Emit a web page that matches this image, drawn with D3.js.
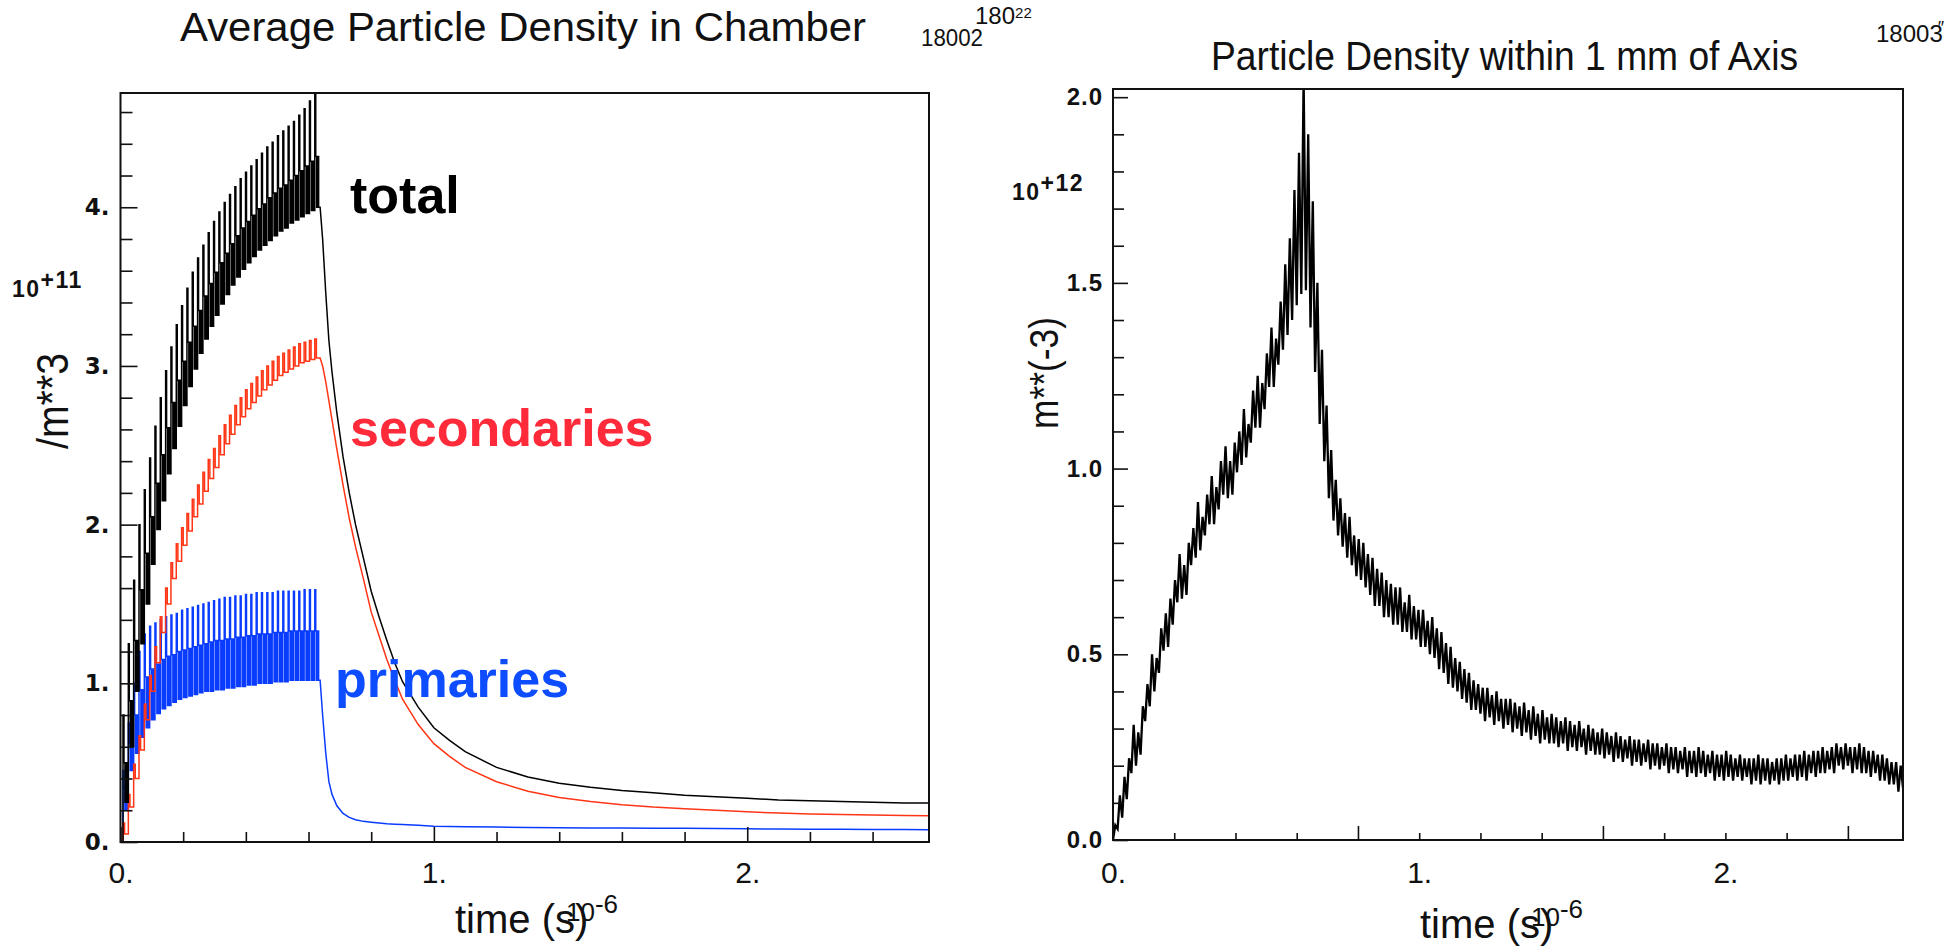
<!DOCTYPE html>
<html lang="en">
<head>
<meta charset="utf-8">
<title>particle density in chamber</title>
<style>
	body {
		margin: 0px;
		background-color: #ffffff;
		overflow: hidden;
	}
	svg { display: block; }
	.frame { fill: none; stroke: #111; stroke-width: 2px; }
	.axis line { stroke: #111; stroke-width: 1.6px; }
	.axis .domain { display: none; }
	.xlab text { font-family: "Liberation Sans", Arial, sans-serif; font-size: 30px; fill: #111; }
	.ylab text { font-family: "Liberation Sans", Arial, sans-serif; font-weight: bold; font-size: 24px; letter-spacing: 1px; fill: #111; }
	.ylabwide text { font-family: "DejaVu Sans", sans-serif; font-size: 23px; letter-spacing: 0px; }
	.title { font-family: "Liberation Sans", Arial, sans-serif; font-size: 41px; fill: #111; }
	.small { font-family: "Liberation Sans", Arial, sans-serif; font-size: 24px; fill: #111; }
	.expo { font-family: "Liberation Sans", Arial, sans-serif; font-weight: bold; font-size: 23px; letter-spacing: 1.5px; fill: #111; }
	.curvelab { font-family: "Liberation Sans", Arial, sans-serif; font-weight: bold; font-size: 52px; }
	.line { fill: none; stroke-linejoin: miter; }
</style>
</head>
<body>
<svg id="chart" width="1948" height="951"></svg>
<script src="https://d3js.org/d3.v7.min.js"></script>
<script>
// ---- left panel: average density in chamber (units 10+11 /m**3, time in 10-6 s) ----
// one entry per beam pulse
var pulseTimes = [0.008,0.025,0.042,0.059,0.076,0.093,0.110,0.127,0.144,0.161,0.178,0.195,0.212,0.229,0.246,0.263,0.280,0.297,0.314,0.331,0.348,0.365,0.382,0.399,0.416,0.433,0.450,0.467,0.484,0.501,0.518,0.535,0.552,0.569,0.586,0.603,0.620];

var totalHi  = [0.80,1.25,1.65,2.00,2.22,2.42,2.62,2.80,2.97,3.12,3.26,3.38,3.49,3.59,3.68,3.76,3.84,3.91,3.97,4.03,4.08,4.13,4.18,4.22,4.26,4.30,4.34,4.38,4.41,4.45,4.48,4.51,4.54,4.58,4.62,4.67,4.80];
var totalMid = [0.50,0.89,1.27,1.59,1.82,2.05,2.26,2.44,2.61,2.77,2.91,3.03,3.15,3.25,3.35,3.44,3.52,3.59,3.65,3.71,3.77,3.82,3.87,3.91,3.95,3.99,4.02,4.06,4.09,4.12,4.14,4.17,4.20,4.23,4.26,4.29,4.32];
var totalLo  = [0.25,0.60,0.95,1.25,1.50,1.75,1.97,2.15,2.32,2.48,2.62,2.75,2.87,2.98,3.08,3.17,3.25,3.32,3.39,3.45,3.51,3.56,3.61,3.65,3.69,3.73,3.76,3.79,3.82,3.85,3.87,3.90,3.92,3.94,3.96,3.98,4.00];

var secHi = [0.12,0.30,0.49,0.67,0.87,1.05,1.23,1.42,1.60,1.76,1.88,1.98,2.07,2.16,2.25,2.33,2.41,2.48,2.56,2.63,2.69,2.75,2.80,2.85,2.89,2.93,2.97,3.00,3.03,3.06,3.08,3.10,3.12,3.14,3.15,3.16,3.17];
var secLo = [0.05,0.22,0.40,0.58,0.77,0.95,1.13,1.32,1.50,1.66,1.77,1.87,1.96,2.05,2.13,2.21,2.29,2.36,2.44,2.51,2.57,2.63,2.68,2.73,2.77,2.81,2.85,2.88,2.91,2.94,2.96,2.98,3.00,3.02,3.03,3.04,3.05];

var primHi  = [0.45,0.75,1.00,1.20,1.31,1.36,1.38,1.40,1.42,1.43,1.44,1.46,1.47,1.48,1.49,1.50,1.51,1.52,1.53,1.54,1.54,1.55,1.55,1.56,1.56,1.57,1.57,1.57,1.57,1.58,1.58,1.58,1.58,1.58,1.59,1.59,1.59];
var primMid = [0.34,0.62,0.80,0.96,1.04,1.09,1.12,1.15,1.17,1.18,1.20,1.21,1.22,1.23,1.24,1.25,1.26,1.27,1.27,1.28,1.28,1.29,1.29,1.30,1.30,1.31,1.31,1.31,1.32,1.32,1.32,1.33,1.33,1.33,1.33,1.33,1.33];
var primLo  = [0.20,0.45,0.56,0.66,0.72,0.77,0.81,0.84,0.86,0.88,0.90,0.91,0.92,0.93,0.94,0.95,0.95,0.96,0.96,0.97,0.97,0.98,0.98,0.99,0.99,1.00,1.00,1.00,1.01,1.01,1.01,1.02,1.02,1.02,1.02,1.02,1.02];

// after the last pulse
var decayTimes = [0.637,0.645,0.655,0.665,0.675,0.69,0.71,0.73,0.75,0.775,0.80,0.825,0.85,0.875,0.90,0.95,1.00,1.05,1.10,1.20,1.30,1.40,1.50,1.60,1.70,1.80,1.90,2.00,2.10,2.20,2.30,2.40,2.50,2.58];
var totalDecay = [4.00,3.80,3.46,3.16,2.96,2.71,2.43,2.20,2.00,1.79,1.58,1.42,1.27,1.13,1.01,0.85,0.72,0.64,0.57,0.47,0.41,0.37,0.345,0.325,0.31,0.295,0.285,0.275,0.265,0.26,0.255,0.25,0.245,0.245];
var secDecay   = [3.05,3.00,2.90,2.78,2.66,2.48,2.25,2.04,1.86,1.66,1.45,1.30,1.15,1.02,0.90,0.74,0.62,0.54,0.47,0.38,0.32,0.28,0.255,0.235,0.22,0.21,0.20,0.19,0.182,0.177,0.173,0.17,0.167,0.165];
var primDecay  = [1.02,0.80,0.56,0.38,0.30,0.23,0.18,0.155,0.14,0.13,0.125,0.12,0.115,0.112,0.11,0.105,0.10,0.098,0.096,0.094,0.092,0.09,0.089,0.088,0.087,0.086,0.085,0.083,0.082,0.081,0.080,0.079,0.078,0.077];

var leftXMinor = [0.2,0.4,0.6,0.8,1.2,1.4,1.6,1.8,2.2,2.4];
var leftXMajor = [0,1,2];
var leftXLabels = ["0.","1.","2."];
var leftYMinor = [0.2,0.4,0.6,0.8,1.2,1.4,1.6,1.8,2.2,2.4,2.6,2.8,3.2,3.4,3.6,3.8,4.2,4.4,4.6];
var leftYMajor = [0,1,2,3,4];
var leftYLabels = ["0.","1.","2.","3.","4."];

// ---- right panel: density within 1 mm of axis (units 10+12 m**(-3)) ----
// noise band per 0.015 bin: upper and lower reading
var axisBinWidth = 0.015;
var axisHi = [
0.04,0.12,0.17,0.22,0.31,0.29,0.36,0.42,0.50,0.49,
0.57,0.61,0.65,0.70,0.77,0.74,0.80,0.84,0.91,0.87,
0.93,0.98,0.95,1.02,1.06,1.02,1.07,1.10,1.16,1.12,
1.21,1.25,1.23,1.31,1.38,1.35,1.45,1.55,1.62,1.75,
1.85,2.05,1.90,1.72,1.50,1.32,1.17,1.05,0.97,0.92,
0.88,0.87,0.82,0.81,0.80,0.77,0.76,0.73,0.72,0.70,
0.69,0.68,0.68,0.64,0.66,0.63,0.62,0.62,0.59,0.60,
0.57,0.56,0.53,0.52,0.49,0.48,0.46,0.45,0.43,0.42,
0.41,0.41,0.39,0.40,0.38,0.38,0.38,0.37,0.36,0.37,
0.35,0.36,0.34,0.35,0.33,0.34,0.33,0.32,0.33,0.32,
0.31,0.32,0.30,0.31,0.30,0.29,0.30,0.29,0.28,0.29,
0.28,0.27,0.28,0.27,0.27,0.26,0.27,0.26,0.26,0.25,
0.26,0.25,0.25,0.24,0.25,0.24,0.24,0.25,0.24,0.23,
0.24,0.23,0.23,0.24,0.23,0.22,0.23,0.22,0.22,0.22,
0.23,0.22,0.22,0.21,0.22,0.22,0.23,0.22,0.23,0.23,
0.24,0.23,0.24,0.24,0.25,0.24,0.25,0.26,0.25,0.26,
0.25,0.25,0.26,0.25,0.24,0.24,0.23,0.23,0.22,0.21,
0.21,0.20,0.19];
var axisLo = [
0.00,0.03,0.06,0.11,0.18,0.20,0.23,0.32,0.36,0.40,
0.45,0.51,0.52,0.58,0.64,0.65,0.66,0.74,0.76,0.78,
0.82,0.85,0.85,0.89,0.93,0.92,0.93,0.99,1.01,1.03,
1.07,1.11,1.11,1.16,1.22,1.22,1.28,1.32,1.36,1.40,
1.44,1.47,1.48,1.38,1.26,1.12,1.02,0.92,0.86,0.82,
0.79,0.76,0.74,0.71,0.70,0.68,0.66,0.63,0.63,0.60,
0.60,0.58,0.58,0.56,0.56,0.54,0.54,0.52,0.52,0.50,
0.49,0.46,0.45,0.42,0.41,0.40,0.38,0.37,0.35,0.35,
0.34,0.32,0.33,0.31,0.32,0.30,0.31,0.29,0.30,0.28,
0.29,0.27,0.28,0.26,0.27,0.26,0.26,0.25,0.26,0.24,
0.25,0.24,0.25,0.23,0.24,0.23,0.23,0.22,0.23,0.21,
0.22,0.21,0.22,0.20,0.21,0.20,0.21,0.19,0.20,0.19,
0.20,0.18,0.19,0.18,0.19,0.17,0.18,0.17,0.18,0.17,
0.18,0.16,0.17,0.16,0.17,0.16,0.17,0.16,0.17,0.15,
0.16,0.15,0.16,0.15,0.16,0.15,0.16,0.16,0.17,0.16,
0.17,0.16,0.18,0.17,0.18,0.18,0.19,0.18,0.20,0.19,
0.20,0.18,0.19,0.18,0.18,0.17,0.18,0.16,0.16,0.15,
0.15,0.13,0.14];

var rightXMinor = [0.2,0.4,0.6,1.0,1.2,1.4,1.8,2.0,2.2];
var rightXMajor = [0.8,1.6,2.4];
var rightXLabelAt = [0,1,2];
var rightXLabels = ["0.","1.","2."];
var rightYMinor = [0.1,0.2,0.3,0.4,0.6,0.7,0.8,0.9,1.1,1.2,1.3,1.4,1.6,1.7,1.8,1.9];
var rightYMajor = [0,0.5,1.0,1.5,2.0];
var rightYLabels = ["0.0","0.5","1.0","1.5","2.0"];

var svg = d3.select("#chart");

// scales
var xL = d3.scaleLinear().domain([0, 2.58]).range([120.5, 929]);
var yL = d3.scaleLinear().domain([0, 4.72]).range([842, 93]);
var xR = d3.scaleLinear().domain([0, 2.58]).range([1113, 1903]);
var yR = d3.scaleLinear().domain([0, 2.022]).range([840, 89]);

var defs = svg.append("defs");
defs.append("clipPath").attr("id", "clipL").append("rect")
	.attr("x", xL(0)).attr("y", yL(4.72)).attr("width", xL(2.58) - xL(0)).attr("height", yL(0) - yL(4.72));
defs.append("clipPath").attr("id", "clipR").append("rect")
	.attr("x", xR(0)).attr("y", yR(2.022)).attr("width", xR(2.58) - xR(0)).attr("height", yR(0) - yR(2.022));

// sawtooth of each pulse followed by the decay tail
function pulsePoints(hi, mid, lo, tail) {
	var pts = [[0, 0]];
	var prev = 0;
	pulseTimes.forEach(function(t, i) {
		var p = (i < pulseTimes.length - 1) ? pulseTimes[i + 1] - t : t - pulseTimes[i - 1];
		pts.push([t, prev], [t, hi[i]], [t + 0.18 * p, hi[i]], [t + 0.18 * p, mid[i]],
			[t + 0.36 * p, mid[i]], [t + 0.36 * p, lo[i]], [t + 0.54 * p, lo[i]], [t + 0.54 * p, mid[i]],
			[t + 0.72 * p, mid[i]], [t + 0.72 * p, lo[i]]);
		prev = lo[i];
	});
	decayTimes.forEach(function(t, i) { pts.push([t, tail[i]]); });
	return pts;
}

function stairPoints(hi, lo, tail) {
	var pts = [[0, 0]];
	var prev = 0;
	pulseTimes.forEach(function(t, i) {
		var p = (i < pulseTimes.length - 1) ? pulseTimes[i + 1] - t : t - pulseTimes[i - 1];
		pts.push([t, prev], [t, hi[i]], [t + 0.3 * p, hi[i]], [t + 0.3 * p, lo[i]]);
		prev = lo[i];
	});
	decayTimes.forEach(function(t, i) { pts.push([t, tail[i]]); });
	return pts;
}

var lineL = d3.line()
	.x(function(d) { return xL(d[0]); })
	.y(function(d) { return yL(d[1]); });

var curves = svg.append("g").attr("clip-path", "url(#clipL)");
curves.append("path").attr("class", "line")
	.attr("d", lineL(pulsePoints(primHi, primMid, primLo, primDecay)))
	.style("stroke", "#0a3cff").style("stroke-width", "1.5px");
curves.append("path").attr("class", "line")
	.attr("d", lineL(stairPoints(secHi, secLo, secDecay)))
	.style("stroke", "#ff3515").style("stroke-width", "1.5px");
curves.append("path").attr("class", "line")
	.attr("d", lineL(pulsePoints(totalHi, totalMid, totalLo, totalDecay)))
	.style("stroke", "#000").style("stroke-width", "1.5px");

// right curve: zigzag between the low and high reading of every bin
var axisPts = [];
axisHi.forEach(function(h, i) {
	axisPts.push([i * axisBinWidth, axisLo[i]], [(i + 0.5) * axisBinWidth, h]);
});
var lineR = d3.line()
	.x(function(d) { return xR(d[0]); })
	.y(function(d) { return yR(d[1]); });

svg.append("g").attr("clip-path", "url(#clipR)")
	.append("path").attr("class", "line")
	.attr("d", lineR(axisPts))
	.style("stroke", "#000").style("stroke-width", "2.3px");

// frames
svg.append("rect").attr("class", "frame")
	.attr("x", xL(0)).attr("y", yL(4.72)).attr("width", xL(2.58) - xL(0)).attr("height", yL(0) - yL(4.72));
svg.append("rect").attr("class", "frame")
	.attr("x", xR(0)).attr("y", yR(2.022)).attr("width", xR(2.58) - xR(0)).attr("height", yR(0) - yR(2.022));

// left axes
svg.append("g").attr("class", "axis").attr("transform", "translate(0," + yL(0) + ")")
	.call(d3.axisBottom(xL).tickValues(leftXMinor).tickSize(-10).tickFormat(""));
svg.append("g").attr("class", "axis xlab").attr("transform", "translate(0," + yL(0) + ")")
	.call(d3.axisBottom(xL).tickValues(leftXMajor).tickSize(-15).tickPadding(20)
		.tickFormat(function(d, i) { return leftXLabels[i]; }));
svg.append("g").attr("class", "axis").attr("transform", "translate(" + xL(0) + ",0)")
	.call(d3.axisLeft(yL).tickValues(leftYMinor).tickSize(-12).tickFormat(""));
svg.append("g").attr("class", "axis ylab ylabwide").attr("transform", "translate(" + xL(0) + ",0)")
	.call(d3.axisLeft(yL).tickValues(leftYMajor).tickSize(-17).tickPadding(11)
		.tickFormat(function(d, i) { return leftYLabels[i]; }));

// right axes
svg.append("g").attr("class", "axis").attr("transform", "translate(0," + yR(0) + ")")
	.call(d3.axisBottom(xR).tickValues(rightXMinor).tickSize(-7).tickFormat(""));
svg.append("g").attr("class", "axis").attr("transform", "translate(0," + yR(0) + ")")
	.call(d3.axisBottom(xR).tickValues(rightXMajor).tickSize(-14).tickFormat(""));
svg.append("g").attr("class", "axis xlab").attr("transform", "translate(0," + yR(0) + ")")
	.call(d3.axisBottom(xR).tickValues(rightXLabelAt).tickSize(0).tickPadding(22)
		.tickFormat(function(d, i) { return rightXLabels[i]; }));
svg.append("g").attr("class", "axis").attr("transform", "translate(" + xR(0) + ",0)")
	.call(d3.axisLeft(yR).tickValues(rightYMinor).tickSize(-11).tickFormat(""));
svg.append("g").attr("class", "axis ylab").attr("transform", "translate(" + xR(0) + ",0)")
	.call(d3.axisLeft(yR).tickValues(rightYMajor).tickSize(-15).tickPadding(10)
		.tickFormat(function(d, i) { return rightYLabels[i]; }));

// titles and run numbers
svg.append("text").attr("class", "title").attr("x", 180).attr("y", 41)
	.attr("textLength", 686).attr("lengthAdjust", "spacingAndGlyphs")
	.text("Average Particle Density in Chamber");
svg.append("text").attr("class", "title").attr("x", 1211).attr("y", 70)
	.attr("textLength", 587).attr("lengthAdjust", "spacingAndGlyphs")
	.text("Particle Density within 1 mm of Axis");

svg.append("text").attr("class", "small").attr("x", 921).attr("y", 46)
	.attr("textLength", 62).attr("lengthAdjust", "spacingAndGlyphs").text("18002");
var tag = svg.append("text").attr("class", "small").attr("x", 975).attr("y", 24);
tag.append("tspan").text("180");
tag.append("tspan").attr("dy", -6).style("font-size", "15px").text("22");
var tag2 = svg.append("text").attr("class", "small").attr("x", 1876).attr("y", 42);
tag2.append("tspan").text("18003");
tag2.append("tspan").attr("dx", -5).attr("dy", -8).style("font-size", "18px").text("\u2033");

// exponents
var e1 = svg.append("text").attr("class", "expo").attr("x", 12).attr("y", 297);
e1.append("tspan").text("10");
e1.append("tspan").attr("dy", -9).text("+11");
var e2 = svg.append("text").attr("class", "expo").attr("x", 1012).attr("y", 200);
e2.append("tspan").text("10");
e2.append("tspan").attr("dy", -9).text("+12");

// axis titles
svg.append("text").attr("class", "title").style("font-size", "44px")
	.attr("transform", "translate(68,401) rotate(-90)").attr("text-anchor", "middle")
	.attr("textLength", 96).attr("lengthAdjust", "spacingAndGlyphs").text("/m**3");
svg.append("text").attr("class", "title").style("font-size", "40px")
	.attr("transform", "translate(1058,373) rotate(-90)").attr("text-anchor", "middle")
	.attr("textLength", 112).attr("lengthAdjust", "spacingAndGlyphs").text("m**(-3)");

[[455, 933], [1420, 938]].forEach(function(a) {
	svg.append("text").attr("class", "title").style("font-size", "40px")
		.attr("x", a[0]).attr("y", a[1]).text("time (s)");
	var ex = svg.append("text").attr("class", "title").style("font-size", "26px")
		.attr("x", a[0] + 111).attr("y", a[1] - 12);
	ex.append("tspan").text("10");
	ex.append("tspan").attr("dy", -8).text("-6");
});

// curve labels
svg.append("text").attr("class", "curvelab").attr("x", 350).attr("y", 213).style("fill", "#000").text("total");
svg.append("text").attr("class", "curvelab").attr("x", 350).attr("y", 446).style("fill", "#ff2b3b").text("secondaries");
svg.append("text").attr("class", "curvelab").attr("x", 335).attr("y", 697).style("fill", "#0d4cff").text("primaries");
</script>
</body>
</html>
